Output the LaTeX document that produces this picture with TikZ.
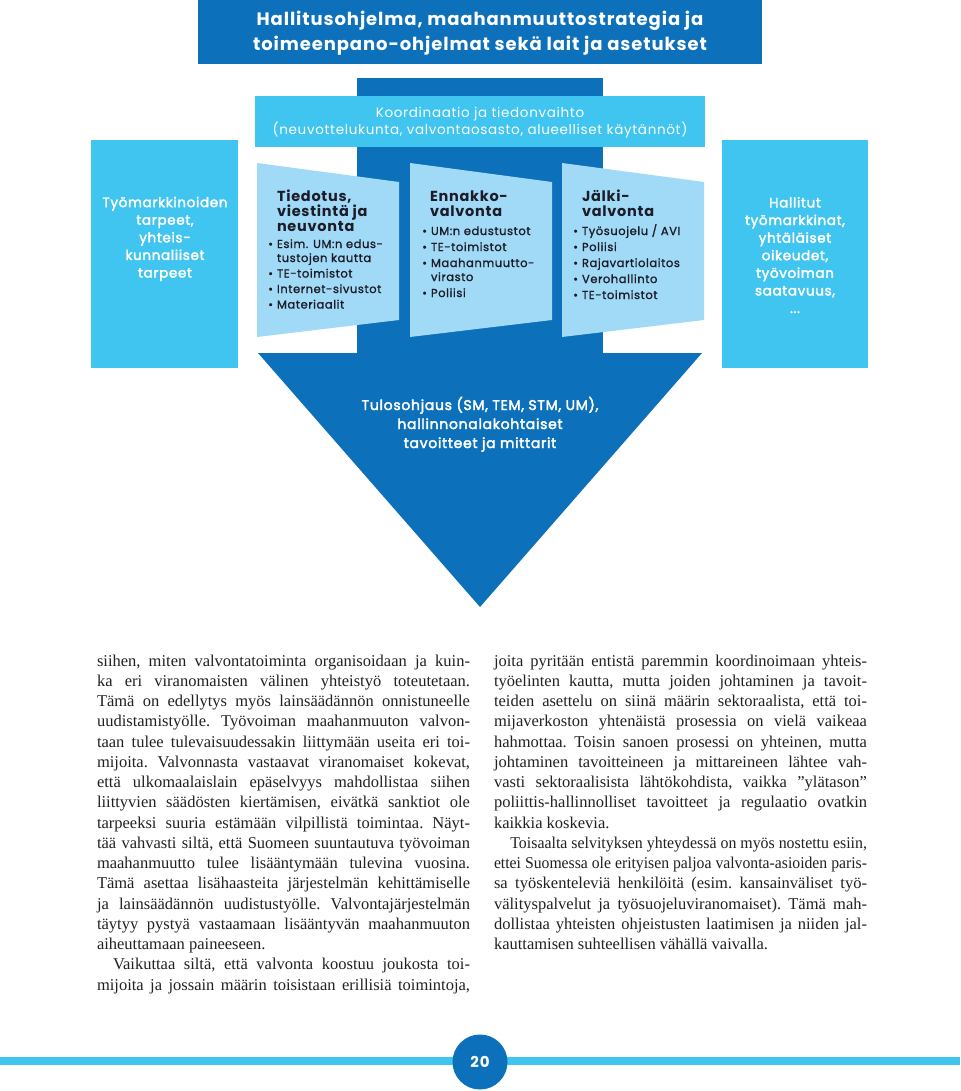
\documentclass[tikz,border=0pt]{standalone}
\usepackage{fontspec}
\usepackage{graphicx}
\setmainfont{Liberation Serif}
\newfontfamily\pop{Poppins}[LetterSpace=5]
\newfontfamily\popm{Poppins}[LetterSpace=5, FakeBold=1.2]
\newfontfamily\popw{Poppins}[LetterSpace=5, FakeBold=2.6]
\definecolor{dkblue}{RGB}{12,112,186}
\definecolor{cyanbox}{RGB}{64,196,240}
\definecolor{ltblue}{RGB}{160,218,246}
\definecolor{ink}{RGB}{28,28,40}
\definecolor{bodyink}{RGB}{35,31,32}
\newlength\cw \setlength\cw{373pt}
\newlength\jw
\newcommand\jl[1]{\settowidth\jw{#1}\ifdim\jw>\cw\resizebox{\cw}{\height}{#1}\else\makebox[\cw][s]{#1}\fi}
\newcommand\lastl[1]{\makebox[\cw][l]{#1}}
\newcommand\bul{\llap{\textbullet\hspace{4pt}}}
\tikzset{
  txt/.style={inner sep=0pt, outer sep=0pt},
  boxtxt/.style={txt, text=white, align=center, font=\popw\fontsize{13.5}{17.6}\selectfont},
  trtitle/.style={txt, text=ink, align=left, anchor=base west, font=\pop\bfseries\fontsize{14.5}{15}\selectfont},
  tritems/.style={txt, text=ink, align=left, anchor=base west, font=\popm\fontsize{11.5}{14}\selectfont},
  bodycol/.style={txt, text=bodyink, align=left, anchor=base west, font=\frenchspacing\fontsize{16.5}{20.25}\selectfont},
}
\begin{document}
\begin{tikzpicture}[x=1pt,y=-1pt]
\useasboundingbox (0,0) rectangle (960,1091);
% top box
\fill[dkblue] (198,0) rectangle (762,64);
\node[txt, anchor=base, align=center, text=white, font=\pop\bfseries\fontsize{18}{25}\selectfont] (title) at (480,51)
  {Hallitusohjelma, maahanmuuttostrategia ja\\toimeenpano-ohjelmat sekä lait ja asetukset};
% central column
\fill[dkblue] (357,78) rectangle (603,354);
% coordination box
\fill[cyanbox] (255,96) rectangle (705,147);
\node[txt, anchor=base, align=center, text=white, font=\pop\fontsize{13.5}{17}\selectfont] (coord) at (480,134.5)
  {Koordinaatio ja tiedonvaihto\\(neuvottelukunta, valvontaosasto, alueelliset käytännöt)};
% side boxes
\fill[cyanbox] (91,140) rectangle (238,368);
\node[boxtxt, anchor=base] (leftt) at (165,277.5)
  {Työmarkkinoiden\\tarpeet,\\yhteis-\\kunnaliiset\\tarpeet};
\fill[cyanbox] (722,140) rectangle (868,368);
\node[boxtxt, anchor=base] (rightt) at (795,313)
  {Hallitut\\työmarkkinat,\\yhtäläiset\\oikeudet,\\työvoiman\\saatavuus,\\...};
% trapezoids
\fill[ltblue] (257,163) -- (399,182) -- (399,320) -- (257,337) -- cycle;
\fill[ltblue] (410,163) -- (552,182) -- (552,320) -- (410,337) -- cycle;
\fill[ltblue] (562,163) -- (704,182) -- (704,320) -- (562,337) -- cycle;
\node[trtitle] (t1) at (277,231.5) {Tiedotus,\\viestintä ja\\neuvonta};
\node[tritems] (i1) at (277,308.5) {\bul Esim. UM:n edus-\\tustojen kautta\\[1.5pt]\bul TE-toimistot\\[1.5pt]\bul Internet-sivustot\\[1.5pt]\bul Materiaalit};
\node[trtitle] (t2) at (430,216.5) {Ennakko-\\valvonta};
\node[tritems] (i2) at (431,297) {\bul UM:n edustustot\\[2pt]\bul TE-toimistot\\[2pt]\bul Maahanmuutto-\\virasto\\[2pt]\bul Poliisi};
\node[trtitle] (t3) at (582,216.5) {Jälki-\\valvonta};
\node[tritems] (i3) at (582,299) {\bul Työsuojelu / AVI\\[2pt]\bul Poliisi\\[2pt]\bul Rajavartiolaitos\\[2pt]\bul Verohallinto\\[2pt]\bul TE-toimistot};
% arrow
\fill[dkblue] (258,353) -- (702,353) -- (480,607) -- cycle;
\node[txt, anchor=base, align=center, text=white, font=\popw\fontsize{14}{19}\selectfont] (arrowt) at (480,448)
  {Tulosohjaus (SM, TEM, STM, UM),\\hallinnonalakohtaiset\\tavoitteet ja mittarit};
% body text
\node[bodycol] (colL) at (97,990) {%
\jl{siihen, miten valvontatoiminta organisoidaan ja kuin-}\\
\jl{ka eri viranomaisten välinen yhteistyö toteutetaan.}\\
\jl{Tämä on edellytys myös lainsäädännön onnistuneelle}\\
\jl{uudistamistyölle. Työvoiman maahanmuuton valvon-}\\
\jl{taan tulee tulevaisuudessakin liittymään useita eri toi-}\\
\jl{mijoita. Valvonnasta vastaavat viranomaiset kokevat,}\\
\jl{että ulkomaalaislain epäselvyys mahdollistaa siihen}\\
\jl{liittyvien säädösten kiertämisen, eivätkä sanktiot ole}\\
\jl{tarpeeksi suuria estämään vilpillistä toimintaa. Näyt-}\\
\jl{tää vahvasti siltä, että Suomeen suuntautuva työvoiman}\\
\jl{maahanmuutto tulee lisääntymään tulevina vuosina.}\\
\jl{Tämä asettaa lisähaasteita järjestelmän kehittämiselle}\\
\jl{ja lainsäädännön uudistustyölle. Valvontajärjestelmän}\\
\jl{täytyy pystyä vastaamaan lisääntyvän maahanmuuton}\\
\lastl{aiheuttamaan paineeseen.}\\
\jl{\hspace*{16pt}Vaikuttaa siltä, että valvonta koostuu joukosta toi-}\\
\jl{mijoita ja jossain määrin toisistaan erillisiä toimintoja,}};
\node[bodycol] (colR) at (494,949.5) {%
\jl{joita pyritään entistä paremmin koordinoimaan yhteis-}\\
\jl{työelinten kautta, mutta joiden johtaminen ja tavoit-}\\
\jl{teiden asettelu on siinä määrin sektoraalista, että toi-}\\
\jl{mijaverkoston yhtenäistä prosessia on vielä vaikeaa}\\
\jl{hahmottaa. Toisin sanoen prosessi on yhteinen, mutta}\\
\jl{johtaminen tavoitteineen ja mittareineen lähtee vah-}\\
\jl{vasti sektoraalisista lähtökohdista, vaikka ”ylätason”}\\
\jl{poliittis-hallinnolliset tavoitteet ja regulaatio ovatkin}\\
\lastl{kaikkia koskevia.}\\
\jl{\hspace*{17pt}Toisaalta selvityksen yhteydessä on myös nostettu esiin,}\\
\jl{ettei Suomessa ole erityisen paljoa valvonta-asioiden paris-}\\
\jl{sa työskenteleviä henkilöitä (esim. kansainväliset työ-}\\
\jl{välityspalvelut ja työsuojeluviranomaiset). Tämä mah-}\\
\jl{dollistaa yhteisten ohjeistusten laatimisen ja niiden jal-}\\
\lastl{kauttamisen suhteellisen vähällä vaivalla.}};
% page number
\draw[cyanbox, line width=8pt] (0,1061) -- (960,1061);
\node[circle, fill=dkblue, minimum size=55pt, inner sep=0pt, text=white, font=\pop\bfseries\fontsize{15}{15}\selectfont] (page) at (480,1062) {20};
\end{tikzpicture}
\end{document}
